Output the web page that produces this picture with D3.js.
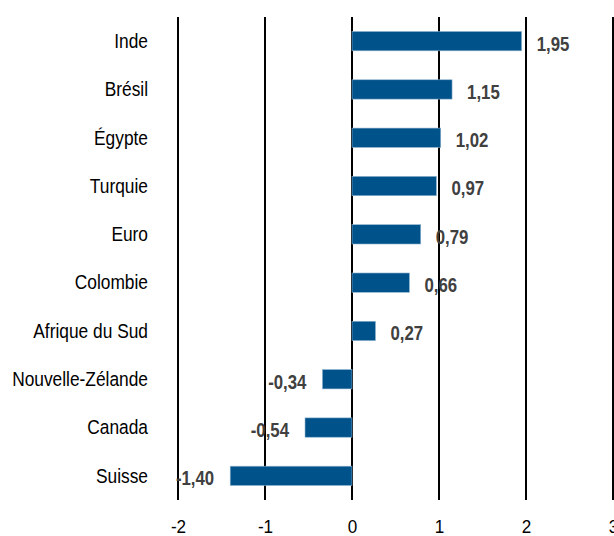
<!DOCTYPE html>
<html>
<head>
<meta charset="utf-8">
<script src="https://cdn.jsdelivr.net/npm/d3@7"></script>
<style>
  body { margin: 0; background: #fff; }
  svg { font-family: "Liberation Sans Narrow", "Arial Narrow", "Liberation Sans", Arial, sans-serif; }
</style>
</head>
<body>
<div id="chart"></div>
<script>
// Data
var countries = ["Inde", "Brésil", "Égypte", "Turquie", "Euro", "Colombie",
    "Afrique du Sud", "Nouvelle-Zélande", "Canada", "Suisse"];
var values = [1.95, 1.15, 1.02, 0.97, 0.79, 0.66, 0.27, -0.34, -0.54, -1.40];
var xTicks = [-2, -1, 0, 1, 2, 3];

var W = 614, H = 536;
var margin = { top: 17, right: 1, bottom: 36, left: 178 };
var height = H - margin.top - margin.bottom;

// condensed look: plain Liberation Sans squeezed horizontally
var sqCat = 0.89, sqVal = 0.8, sqTick = 0.9;

var svg = d3.select("#chart")
    .append("svg")
    .attr("width", W)
    .attr("height", H)
    .append("g")
    .attr("transform", "translate(" + margin.left + "," + margin.top + ")");

// Scales
var x = d3.scaleLinear().domain([-2, 3]).range([0, 435]);
var y = d3.scaleBand().domain(countries).range([0, height]).paddingInner(0.6).paddingOuter(0.3);

// Grid lines
svg.selectAll(".grid")
    .data(xTicks)
    .enter().append("line")
    .attr("class", "grid")
    .attr("x1", function (d) { return x(d); })
    .attr("x2", function (d) { return x(d); })
    .attr("y1", 0)
    .attr("y2", height)
    .attr("stroke", "#000")
    .attr("stroke-width", 2);

// x axis labels
var xAxis = d3.axisBottom(x).tickValues(xTicks).tickSize(0)
    .tickFormat(function (d) { return d; });
var gx = svg.append("g")
    .attr("transform", "translate(0," + height + ")")
    .call(xAxis);
gx.select(".domain").remove();
gx.selectAll("text")
    .attr("y", 26)
    .attr("dy", "0.35em")
    .attr("font-size", 19)
    .attr("fill", "#000")
    .attr("font-family", "'Liberation Sans', Arial, sans-serif")
    .attr("transform", "scale(" + sqTick + ",1)");

// y axis labels
var yAxis = d3.axisLeft(y).tickSize(0);
var gy = svg.append("g").call(yAxis);
gy.select(".domain").remove();
gy.selectAll("text")
    .attr("x", -30 / sqCat)
    .attr("dy", "0.35em")
    .attr("font-size", 19.5)
    .attr("fill", "#000")
    .attr("font-family", "'Liberation Sans', Arial, sans-serif")
    .attr("transform", "scale(" + sqCat + ",1)");

// Bars
svg.selectAll(".bar")
    .data(values)
    .enter().append("rect")
    .attr("class", "bar")
    .attr("x", function (d) { return x(Math.min(0, d)); })
    .attr("y", function (d, i) { return y(countries[i]); })
    .attr("width", function (d) { return Math.abs(x(d) - x(0)); })
    .attr("height", y.bandwidth())
    .attr("fill", "#00528a")
    .attr("stroke", "#8fb3cf")
    .attr("stroke-width", 0.6);

// Value labels
var fmt = function (d) { return d.toFixed(2).replace(".", ","); };
svg.selectAll(".val")
    .data(values)
    .enter().append("text")
    .attr("class", "val")
    .attr("transform", function (d, i) {
        var tx = d >= 0 ? x(d) + 15 : x(d) - 16;
        var ty = y(countries[i]) + y.bandwidth() / 2 + 2;
        return "translate(" + tx + "," + ty + ") scale(" + sqVal + ",1)";
    })
    .attr("dy", "0.35em")
    .attr("text-anchor", function (d) { return d >= 0 ? "start" : "end"; })
    .attr("font-size", 21)
    .attr("font-weight", "bold")
    .attr("fill", "#404040")
    .attr("font-family", "'Liberation Sans', Arial, sans-serif")
    .text(fmt);
</script>
</body>
</html>
